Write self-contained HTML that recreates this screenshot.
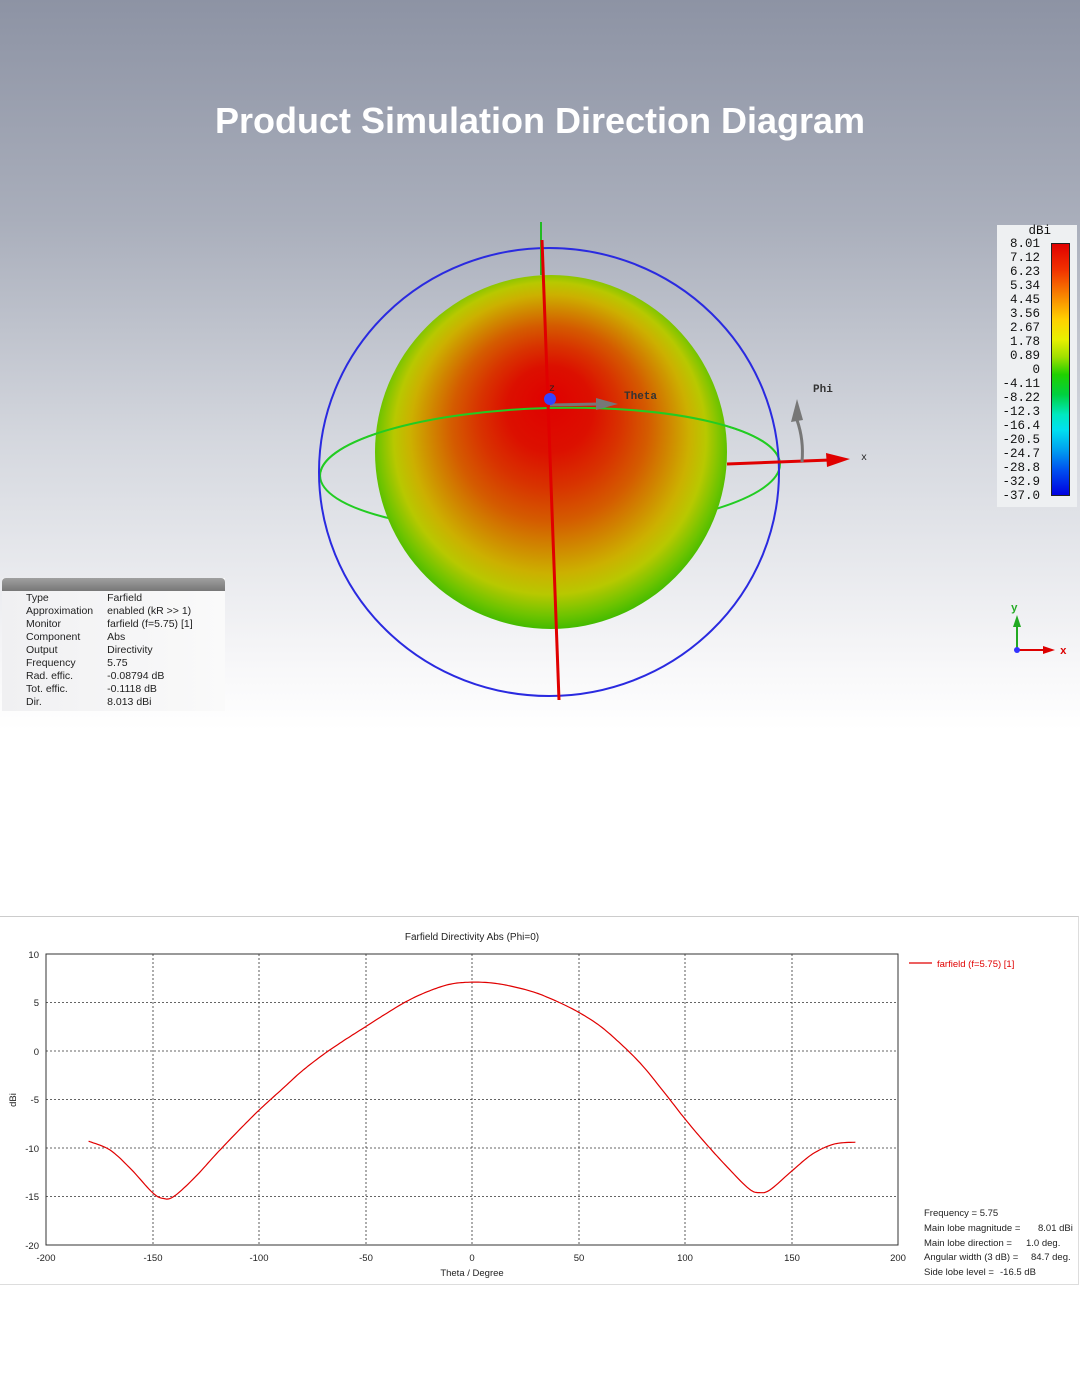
<!DOCTYPE html>
<html><head><meta charset="utf-8"><style>
body{margin:0;width:1080px;height:1400px;position:relative;font-family:"Liberation Sans",sans-serif;background:#fff;overflow:hidden}
.top{position:absolute;left:0;top:0;width:1080px;height:730px;background:linear-gradient(#8d93a4 0%,#a9aebb 30%,#d4d7de 60%,#f6f6f8 90%,#fff 100%)}
h1{position:absolute;top:100px;left:0;width:1080px;text-align:center;margin:0;color:#fff;font-size:36px;font-weight:bold}
.info{position:absolute;left:2px;top:578px;width:223px;height:133px;background:linear-gradient(90deg,#f0f0f2,#fafafa)}
.info .bar{height:13px;background:linear-gradient(#a0a0a0,#777);border-radius:4px 4px 0 0}
.info table{font-size:10.5px;color:#222;border-collapse:collapse;margin-left:24px;margin-top:1px}
.info td{padding:0 14px 0 0;line-height:13px}
.leg{position:absolute;left:997px;top:225px;width:80px;height:282px;background:#eef0f2;font-family:"Liberation Mono",monospace;font-size:12.5px;color:#111}
.leg div.l{position:absolute;right:37px;text-align:right;line-height:14px}
</style></head><body>
<div class="top"></div>
<h1>Product Simulation Direction Diagram</h1>
<svg width="1080" height="730" style="position:absolute;left:0;top:0">
<defs>
<radialGradient id="sp" cx="550" cy="460" r="240" fx="550" fy="398" gradientUnits="userSpaceOnUse">
<stop offset="0" stop-color="#e00000"/><stop offset="0.18" stop-color="#dc1000"/><stop offset="0.3" stop-color="#d83400"/><stop offset="0.41" stop-color="#d45c00"/><stop offset="0.5" stop-color="#d08800"/><stop offset="0.58" stop-color="#ccb000"/><stop offset="0.65" stop-color="#b8c800"/><stop offset="0.72" stop-color="#70c400"/><stop offset="0.8" stop-color="#20b400"/><stop offset="1" stop-color="#00a800"/>
</radialGradient>
<clipPath id="topc"><rect x="300" y="380" width="500" height="86"/></clipPath>
</defs>
<ellipse cx="550" cy="470" rx="230" ry="62" transform="rotate(-1.5 550 470)" fill="none" stroke="#22cc22" stroke-width="2"/>
<ellipse cx="551" cy="452" rx="176" ry="177" fill="url(#sp)"/>
<ellipse cx="550" cy="470" rx="230" ry="62" transform="rotate(-1.5 550 470)" fill="none" stroke="#22cc22" stroke-width="2" clip-path="url(#topc)"/>
<ellipse cx="549" cy="472" rx="230" ry="224" fill="none" stroke="#2a2ae0" stroke-width="2"/>
<line x1="541" y1="222" x2="541" y2="275" stroke="#22bb22" stroke-width="2"/>
<line x1="542" y1="240" x2="559" y2="700" stroke="#e00000" stroke-width="3"/>
<line x1="727" y1="464" x2="830" y2="460" stroke="#e00000" stroke-width="3"/>
<polygon points="826,453 850,459 827,467" fill="#e00000"/>
<line x1="550" y1="405" x2="600" y2="404" stroke="#777" stroke-width="3"/>
<polygon points="596,398 618,404 596,410" fill="#777"/>
<circle cx="550" cy="399" r="6" fill="#3344ff"/>
<path d="M802 462 Q804 440 797 420" fill="none" stroke="#777" stroke-width="3"/>
<polygon points="791,422 797,399 803,420" fill="#777"/>
<text x="549" y="391" font-family="Liberation Mono" font-size="10" fill="#222">z</text>
<text x="624" y="399" font-family="Liberation Mono" font-size="11" font-weight="bold" fill="#333">Theta</text>
<text x="813" y="392" font-family="Liberation Mono" font-size="11" font-weight="bold" fill="#333">Phi</text>
<text x="861" y="460" font-family="Liberation Mono" font-size="10" fill="#222">x</text>
<line x1="1017" y1="650" x2="1045" y2="650" stroke="#d00" stroke-width="2"/><polygon points="1043,646 1055,650 1043,654" fill="#d00"/>
<line x1="1017" y1="650" x2="1017" y2="625" stroke="#2a2" stroke-width="2"/><polygon points="1013,627 1017,615 1021,627" fill="#2a2"/>
<circle cx="1017" cy="650" r="3" fill="#33f"/>
<text x="1011" y="611" font-size="11" font-weight="bold" fill="#2a2" font-family="Liberation Mono">y</text>
<text x="1060" y="654" font-size="11" font-weight="bold" fill="#d00" font-family="Liberation Mono">x</text>
</svg>
<div class="info"><div class="bar"></div><table>
<tr><td>Type</td><td>Farfield</td></tr><tr><td>Approximation</td><td>enabled (kR &gt;&gt; 1)</td></tr><tr><td>Monitor</td><td>farfield (f=5.75) [1]</td></tr><tr><td>Component</td><td>Abs</td></tr><tr><td>Output</td><td>Directivity</td></tr><tr><td>Frequency</td><td>5.75</td></tr><tr><td>Rad. effic.</td><td>-0.08794 dB</td></tr><tr><td>Tot. effic.</td><td>-0.1118 dB</td></tr><tr><td>Dir.</td><td>8.013 dBi</td></tr></table></div>
<div class="leg">
<div class="l" style="top:-1px;right:26px">dBi</div>
<div class="l" style="top:12px">8.01</div><div class="l" style="top:26px">7.12</div><div class="l" style="top:40px">6.23</div><div class="l" style="top:54px">5.34</div><div class="l" style="top:68px">4.45</div><div class="l" style="top:82px">3.56</div><div class="l" style="top:96px">2.67</div><div class="l" style="top:110px">1.78</div><div class="l" style="top:124px">0.89</div><div class="l" style="top:138px">0</div><div class="l" style="top:152px">-4.11</div><div class="l" style="top:166px">-8.22</div><div class="l" style="top:180px">-12.3</div><div class="l" style="top:194px">-16.4</div><div class="l" style="top:208px">-20.5</div><div class="l" style="top:222px">-24.7</div><div class="l" style="top:236px">-28.8</div><div class="l" style="top:250px">-32.9</div><div class="l" style="top:264px">-37.0</div>
<div style="position:absolute;left:54px;top:18px;width:17px;height:251px;border:1px solid #222;background:linear-gradient(#e00000 0%,#f03000 10%,#f88000 20%,#ffd000 30%,#e8f000 38%,#a0e000 45%,#20d000 52%,#00d040 60%,#00e8c0 68%,#00e0f0 74%,#00a0f0 82%,#0050f0 90%,#0000e0 100%)"></div>
</div>
<div style="position:absolute;left:0;top:916px;width:1078px;height:367px;border-top:1px solid #ccc;border-right:1px solid #ddd;border-bottom:1px solid #ddd"></div>
<svg width="1080" height="400" style="position:absolute;left:0;top:900px" font-family="Liberation Sans" font-size="9.5" fill="#222">
<text x="472" y="40" text-anchor="middle" font-size="10">Farfield Directivity Abs (Phi=0)</text>
<g stroke="#333" stroke-width="0.8" stroke-dasharray="2,2">
<line x1="153" y1="54" x2="153" y2="345"/><line x1="259" y1="54" x2="259" y2="345"/><line x1="366" y1="54" x2="366" y2="345"/><line x1="472" y1="54" x2="472" y2="345"/><line x1="579" y1="54" x2="579" y2="345"/><line x1="685" y1="54" x2="685" y2="345"/><line x1="792" y1="54" x2="792" y2="345"/>
<line x1="46" y1="102.5" x2="898" y2="102.5"/><line x1="46" y1="151" x2="898" y2="151"/><line x1="46" y1="199.5" x2="898" y2="199.5"/><line x1="46" y1="248" x2="898" y2="248"/><line x1="46" y1="296.5" x2="898" y2="296.5"/>
</g>
<rect x="46" y="54" width="852" height="291" fill="none" stroke="#333" stroke-width="1"/>
<text x="39" y="58" text-anchor="end">10</text><text x="39" y="106" text-anchor="end">5</text><text x="39" y="155" text-anchor="end">0</text><text x="39" y="203" text-anchor="end">-5</text><text x="39" y="252" text-anchor="end">-10</text><text x="39" y="300" text-anchor="end">-15</text><text x="39" y="349" text-anchor="end">-20</text>
<text x="46" y="361" text-anchor="middle">-200</text><text x="153" y="361" text-anchor="middle">-150</text><text x="259" y="361" text-anchor="middle">-100</text><text x="366" y="361" text-anchor="middle">-50</text><text x="472" y="361" text-anchor="middle">0</text><text x="579" y="361" text-anchor="middle">50</text><text x="685" y="361" text-anchor="middle">100</text><text x="792" y="361" text-anchor="middle">150</text><text x="898" y="361" text-anchor="middle">200</text>
<text x="472" y="376" text-anchor="middle">Theta / Degree</text>
<text x="16" y="200" text-anchor="middle" transform="rotate(-90 16 200)">dBi</text>
<path id="curve" fill="none" stroke="#e00000" stroke-width="1.2"/>
<line x1="909" y1="63" x2="932" y2="63" stroke="#e00000" stroke-width="1.2"/>
<text x="937" y="67" fill="#e00000">farfield (f=5.75) [1]</text>
<text x="924" y="316">Frequency = 5.75</text>
<text x="924" y="331">Main lobe magnitude =</text><text x="1038" y="331">8.01 dBi</text>
<text x="924" y="346">Main lobe direction =</text><text x="1026" y="346">1.0 deg.</text>
<text x="924" y="360">Angular width (3 dB) =</text><text x="1031" y="360">84.7 deg.</text>
<text x="924" y="375">Side lobe level =</text><text x="1000" y="375">-16.5 dB</text>
</svg>
<script>
var P=[[-180,-9.3],[-170,-10.2],[-160,-12.2],[-150,-14.6],[-145,-15.2],[-140,-15.0],[-130,-13.0],[-120,-10.6],[-110,-8.3],[-100,-6.1],[-90,-4.1],[-80,-2.1],[-70,-0.4],[-60,1.1],[-50,2.5],[-40,3.9],[-30,5.2],[-20,6.2],[-10,6.9],[0,7.1],[10,7.0],[20,6.6],[30,6.0],[40,5.1],[50,4.0],[60,2.6],[70,0.7],[80,-1.5],[90,-4.2],[100,-7.0],[110,-9.6],[120,-12.0],[130,-14.2],[135,-14.6],[140,-14.3],[150,-12.4],[160,-10.6],[170,-9.6],[180,-9.4]];
function X(t){return 472+t*2.13}function Y(v){return 151-v*9.7}
var d="";for(var i=0;i<P.length-1;i++){var p0=P[Math.max(0,i-1)],p1=P[i],p2=P[i+1],p3=P[Math.min(P.length-1,i+2)];
for(var s=0;s<=10;s++){var u=s/10,u2=u*u,u3=u2*u;
var t=0.5*((2*p1[0])+(-p0[0]+p2[0])*u+(2*p0[0]-5*p1[0]+4*p2[0]-p3[0])*u2+(-p0[0]+3*p1[0]-3*p2[0]+p3[0])*u3);
var v=0.5*((2*p1[1])+(-p0[1]+p2[1])*u+(2*p0[1]-5*p1[1]+4*p2[1]-p3[1])*u2+(-p0[1]+3*p1[1]-3*p2[1]+p3[1])*u3);
d+=(d?"L":"M")+X(t).toFixed(1)+" "+Y(v).toFixed(1);}}
document.getElementById("curve").setAttribute("d",d);
</script>
</body></html>
